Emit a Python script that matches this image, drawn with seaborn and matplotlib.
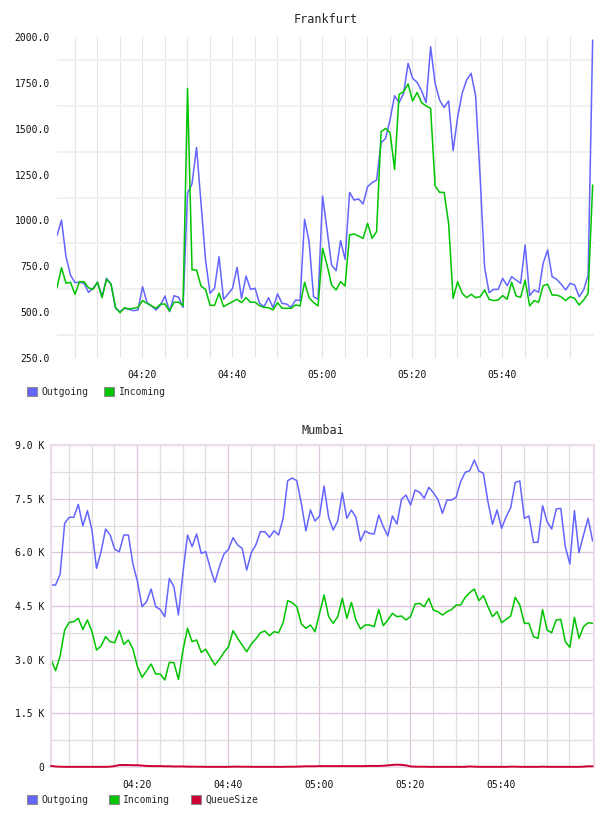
import numpy as np
import pandas as pd
import matplotlib
matplotlib.use("Agg")
import matplotlib.pyplot as plt
import matplotlib.dates as mdates
from matplotlib.patches import Patch
from matplotlib.ticker import FixedLocator, FuncFormatter
import seaborn as sns

# one sample per minute, 04:01 -> 06:00
frankfurt_outgoing = [
    917, 1002, 802, 702, 661, 663, 657, 608, 630, 663, 584, 684, 653, 521, 503, 521,
    515, 508, 512, 639, 552, 534, 512, 539, 588, 503, 590, 581, 526, 1148, 1200,
    1398, 1093, 784, 603, 630, 802, 570, 599, 630, 744, 575, 697, 624, 630, 548,
    530, 579, 524, 599, 548, 544, 526, 566, 563, 1006, 884, 584, 570, 1133, 948,
    757, 726, 890, 788, 1153, 1111, 1117, 1090, 1184, 1206, 1220, 1424, 1447, 1551,
    1680, 1642, 1693, 1856, 1775, 1753, 1706, 1642, 1947, 1747, 1656, 1616, 1651,
    1380, 1562, 1693,
    1765, 1802, 1678, 1238, 744, 606, 624, 624, 684, 644, 693, 675, 657, 866, 590,
    621, 608, 766, 839, 693, 679, 653, 621, 657, 648, 584, 621, 702, 1983,
]
frankfurt_incoming = [
    633, 742, 657, 663, 597, 666, 666, 633, 624, 663, 579, 679, 653, 526, 497, 524,
    517, 521, 526, 563, 548, 534, 521, 544, 544, 506, 554, 554, 535, 1720, 730,
    730, 642, 624, 537, 537, 603, 530, 544, 557, 570, 552, 579, 554, 554, 535, 526,
    524, 512, 552, 521, 521, 521, 539, 534, 663, 579, 552, 534, 848, 757,
    648, 621, 666, 643, 921, 926, 915, 902, 984, 902, 939, 1484, 1502, 1478, 1278,
    1687, 1702, 1744, 1651, 1698, 1642, 1624, 1611, 1188, 1153, 1153, 984, 575, 666,
    603,
    579, 597, 579, 584, 621, 570, 563, 566, 590, 570, 663, 588, 581, 675, 534, 563,
    554, 644, 652, 593, 593, 584, 563, 584, 575, 539, 566, 603, 1193,
]
mumbai_outgoing = [
    5087, 5087, 5385, 6810, 6978, 6978, 7341, 6736, 7164, 6624, 5553, 6018, 6652,
    6484, 6083, 6018, 6484, 6484, 5674, 5180, 4481, 4621, 4975, 4481, 4400, 4200,
    5270, 5040, 4250, 5450, 6484, 6158, 6512, 5972, 6018, 5553, 5161, 5599, 5953,
    6083, 6410, 6205, 6111, 5506, 5990, 6205, 6577, 6577, 6419, 6605, 6484, 6950,
    8003, 8077, 8003, 7369, 6600,
    7183, 6875, 7015, 7854, 6978, 6624, 6875, 7667, 6950, 7183, 6978, 6316, 6596,
    6531, 6512, 7043, 6717, 6456, 7015, 6791, 7481, 7602, 7323, 7742, 7677, 7509,
    7816, 7667, 7481, 7090, 7462, 7462, 7537, 7975, 8236, 8282, 8580, 8273, 8208,
    7416, 6782, 7183, 6670, 6996, 7248, 7956, 7994, 6950, 7015, 6279, 6279, 7304,
    6857, 6652, 7211, 7230, 6158, 5674, 7164, 5990, 6484, 6950, 6316,
]
mumbai_incoming = [
    3009, 2692, 3102, 3829, 4043, 4062, 4155, 3848, 4109, 3782, 3270, 3382, 3643,
    3503, 3475, 3810, 3428, 3550, 3298, 2804, 2506, 2692, 2879, 2599, 2599, 2432,
    2925, 2916, 2450, 3270, 3876, 3503, 3550, 3205, 3289, 3065, 2851, 3009, 3205,
    3363, 3810, 3596, 3410, 3223, 3438, 3578, 3754, 3801, 3671, 3782, 3754, 4034,
    4649, 4593, 4481, 4000,
    3876, 3969, 3782, 4295, 4807, 4202, 4015, 4202, 4714, 4155, 4602, 4109, 3857,
    3969, 3969, 3922, 4400, 3950, 4109, 4295, 4202, 4220, 4109, 4202, 4556, 4574,
    4481, 4714, 4388, 4341, 4248, 4341, 4400, 4528, 4528, 4742, 4872, 4975, 4649,
    4788, 4481, 4202, 4341, 4034, 4127, 4220, 4742, 4528, 4015, 4015, 3643, 3596,
    4400, 3829, 3754, 4109, 4127, 3503, 3345, 4183, 3596, 3922, 4034, 4015,
]
mumbai_queue = [
    30, 15, 8, 5, 5, 5, 5, 5, 5, 5, 5, 5, 5, 10, 25, 55, 55, 55, 50, 50,
    40, 30, 25, 25, 25, 20, 20, 15, 15, 15, 10, 10, 8, 8, 5, 5, 5, 5, 5, 5,
    10, 10, 8, 8, 5, 5, 5, 5, 5, 5, 5, 5, 8, 8, 10, 15, 20, 20, 20, 25,
    25, 25, 25, 25, 25, 25, 25, 25, 25, 25, 30, 30, 30, 35, 45, 60, 65, 60, 45, 15,
    10, 8, 8, 5, 5, 5, 5, 5, 5, 5, 5, 5, 15, 10, 5, 5, 5, 5, 5, 5,
    5, 10, 10, 5, 5, 5, 5, 5, 10, 5, 5, 5, 5, 5, 5, 5, 5, 10, 20, 20,
]

times = pd.date_range("2024-01-01 04:01:06", periods=len(frankfurt_outgoing), freq="min")
major_times = pd.to_datetime(["2024-01-01 04:20", "2024-01-01 04:40", "2024-01-01 05:00",
                              "2024-01-01 05:20", "2024-01-01 05:40"])
grid_times = pd.date_range("2024-01-01 04:05", "2024-01-01 05:55", freq="5min")
colors = {"Outgoing": "#6464ff", "Incoming": "#00c400", "QueueSize": "#cc0033"}

sns.set_style("white")
plt.rcParams["font.family"] = ["DejaVu Sans Mono"]
plt.rcParams["font.size"] = 7

fig = plt.figure(figsize=(6.08, 8.16), dpi=100)
ax_f = fig.add_axes([57 / 608, 1 - 358 / 816, 537 / 608, 321 / 816])
ax_m = fig.add_axes([51 / 608, 1 - 767 / 816, 543 / 608, 322 / 816])


def long_frame(series):
    parts = [pd.DataFrame({"time": times, "value": vals, "series": name})
             for name, vals in series.items()]
    return pd.concat(parts, ignore_index=True)


df_f = long_frame({"Outgoing": frankfurt_outgoing, "Incoming": frankfurt_incoming})
df_m = long_frame({"Outgoing": mumbai_outgoing, "Incoming": mumbai_incoming,
                   "QueueSize": mumbai_queue})

sns.lineplot(data=df_f, x="time", y="value", hue="series", palette=colors,
             linewidth=1.1, legend=False, ax=ax_f)
sns.lineplot(data=df_m, x="time", y="value", hue="series", palette=colors,
             linewidth=1.1, legend=False, ax=ax_m)

# queue size hugs the zero line; keep it above the frame like the original
queue_line = ax_m.lines[-1]
queue_line.set_zorder(3)
queue_line.set_linewidth(1.4)
queue_line.set_clip_on(False)

x_end = times[0] + pd.Timedelta(minutes=119.3)
for ax in (ax_f, ax_m):
    ax.set_xlim(times[0], x_end)
    ax.set_xlabel("")
    ax.set_ylabel("")
    ax.xaxis.set_major_locator(FixedLocator(mdates.date2num(major_times)))
    ax.xaxis.set_minor_locator(FixedLocator(mdates.date2num(grid_times)))
    ax.xaxis.set_major_formatter(mdates.DateFormatter("%H:%M"))
    ax.tick_params(which="both", length=0, labelsize=7, colors="#111111")
    ax.tick_params(axis="y", pad=5)
    ax.tick_params(axis="x", pad=9)
    ax.set_axisbelow(True)

# Frankfurt: plain grey grid, labels sit between grid rows
ax_f.set_ylim(250, 2000)
ax_f.yaxis.set_major_locator(FixedLocator(np.arange(250, 2001, 250)))
ax_f.yaxis.set_minor_locator(FixedLocator(np.arange(375, 2000, 250)))
ax_f.yaxis.set_major_formatter(FuncFormatter(lambda v, _: f"{v:.1f}"))
ax_f.grid(False)
ax_f.grid(which="minor", axis="y", color="#f0f0f0", lw=1.5)
ax_f.grid(which="both", axis="x", color="#e4e4e4", lw=0.8)
for s in ax_f.spines.values():
    s.set_visible(False)
ax_f.set_title("Frankfurt", fontsize=8.5, pad=10)

# Mumbai: purple major grid, grey minor grid, light frame
ax_m.set_ylim(0, 9000)
ax_m.yaxis.set_major_locator(FixedLocator(np.arange(0, 9001, 1500)))
ax_m.yaxis.set_minor_locator(FixedLocator(np.arange(750, 9000, 1500)))
ax_m.yaxis.set_major_formatter(
    FuncFormatter(lambda v, _: "0" if v == 0 else f"{v / 1000:.1f} K"))
ax_m.grid(False)
ax_m.grid(which="major", color="#dcc6dc", lw=0.9)
ax_m.grid(which="minor", color="#dedede", lw=0.9)
for s in ax_m.spines.values():
    s.set_color("#ecdcec")
    s.set_linewidth(1.5)
ax_m.set_title("Mumbai", fontsize=8.5, pad=8)


def add_legend(names, y_px, spacing):
    handles = [Patch(facecolor=colors[n], edgecolor="#8c8c8c", linewidth=0.8, label=n)
               for n in names]
    fig.legend(handles=handles, loc="center left", bbox_to_anchor=(22 / 608, 1 - y_px / 816),
               ncol=len(names), frameon=False, fontsize=7, handlelength=1.0,
               handleheight=1.0, handletextpad=0.5, columnspacing=spacing, borderpad=0)


add_legend(["Outgoing", "Incoming"], 392, 1.6)
add_legend(["Outgoing", "Incoming", "QueueSize"], 800, 2.1)

fig.savefig("out.png", dpi=100)
